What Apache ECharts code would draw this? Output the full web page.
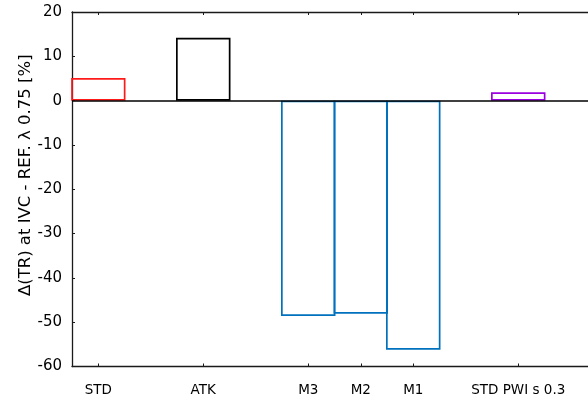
<!DOCTYPE html>
<html>
<head>
<meta charset="utf-8">
<script src="https://cdn.jsdelivr.net/npm/echarts@6/dist/echarts.min.js"></script>
<style>
html,body{margin:0;padding:0;background:#fff;overflow:hidden;width:588px;height:406px;}
#c{width:600px;height:406px;}
</style>
</head>
<body>
<div id="c"></div>
<script>
const categories = ['STD', '', 'ATK', '', 'M3', 'M2', 'M1', '', 'STD PWI s 0.3', ''];
const values = [5.1, null, 14.2, null, -48.6, -48.1, -56.2, null, 1.9, null];
const barColors = ['#ff1a1a', null, '#000000', null, '#0072bd', '#0072bd', '#0072bd', null, '#9a00e0', null];
const yTicks = { min: -60, max: 20, interval: 10 };
const yTitle = 'Δ(TR) at IVC - REF. λ 0.75 [%]';

const font = 'DejaVu Sans';
const axisColor = '#1a1a1a';

const chart = echarts.init(document.getElementById('c'), null, { renderer: 'canvas' });
const tickShow = function (i, v) { return v !== ''; };

chart.setOption({
  animation: false,
  backgroundColor: '#ffffff',
  grid: { left: 72, top: 12, width: 525, height: 354.5, containLabel: false },
  xAxis: [
    {
      type: 'category',
      data: categories,
      position: 'bottom',
      boundaryGap: true,
      axisLine: { show: true, onZero: false, lineStyle: { color: axisColor, width: 1.3 } },
      axisTick: { show: true, inside: true, length: 3, alignWithLabel: true, interval: tickShow, lineStyle: { color: axisColor, width: 1 } },
      axisLabel: { interval: 0, margin: 17, color: '#000', fontFamily: font, fontSize: 13.5 },
      splitLine: { show: false }
    },
    {
      type: 'category',
      data: categories,
      position: 'top',
      boundaryGap: true,
      axisLine: { show: true, onZero: false, lineStyle: { color: axisColor, width: 1.3 } },
      axisTick: { show: true, inside: true, length: 3, alignWithLabel: true, interval: tickShow, lineStyle: { color: axisColor, width: 1 } },
      axisLabel: { show: false },
      splitLine: { show: false }
    }
  ],
  yAxis: {
    type: 'value',
    min: yTicks.min,
    max: yTicks.max,
    interval: yTicks.interval,
    name: yTitle,
    nameLocation: 'middle',
    nameRotate: 90,
    nameGap: 38,
    nameMoveOverlap: false,
    nameTextStyle: { color: '#000', fontFamily: font, fontSize: 16.5, padding: [0, 0, 0, 28] },
    axisLine: { show: true, lineStyle: { color: axisColor, width: 1.3 } },
    axisTick: { show: true, inside: true, length: 3, lineStyle: { color: axisColor, width: 1 } },
    axisLabel: { margin: 10, color: '#000', fontFamily: font, fontSize: 15 },
    splitLine: { show: false }
  },
  series: [
    {
      type: 'bar',
      xAxisIndex: 0,
      barWidth: 54.5,
      barCategoryGap: 0,
      data: values.map(function (v, i) {
        return {
          value: v,
          itemStyle: {
            color: 'rgba(255,255,255,0)',
            borderColor: barColors[i] || '#000',
            borderWidth: 1.7
          }
        };
      }),
      markLine: {
        silent: true,
        symbol: ['none', 'none'],
        label: { show: false },
        lineStyle: { color: '#000', width: 1.6, type: 'solid' },
        data: [{ yAxis: 0 }]
      }
    }
  ]
});
</script>
</body>
</html>
